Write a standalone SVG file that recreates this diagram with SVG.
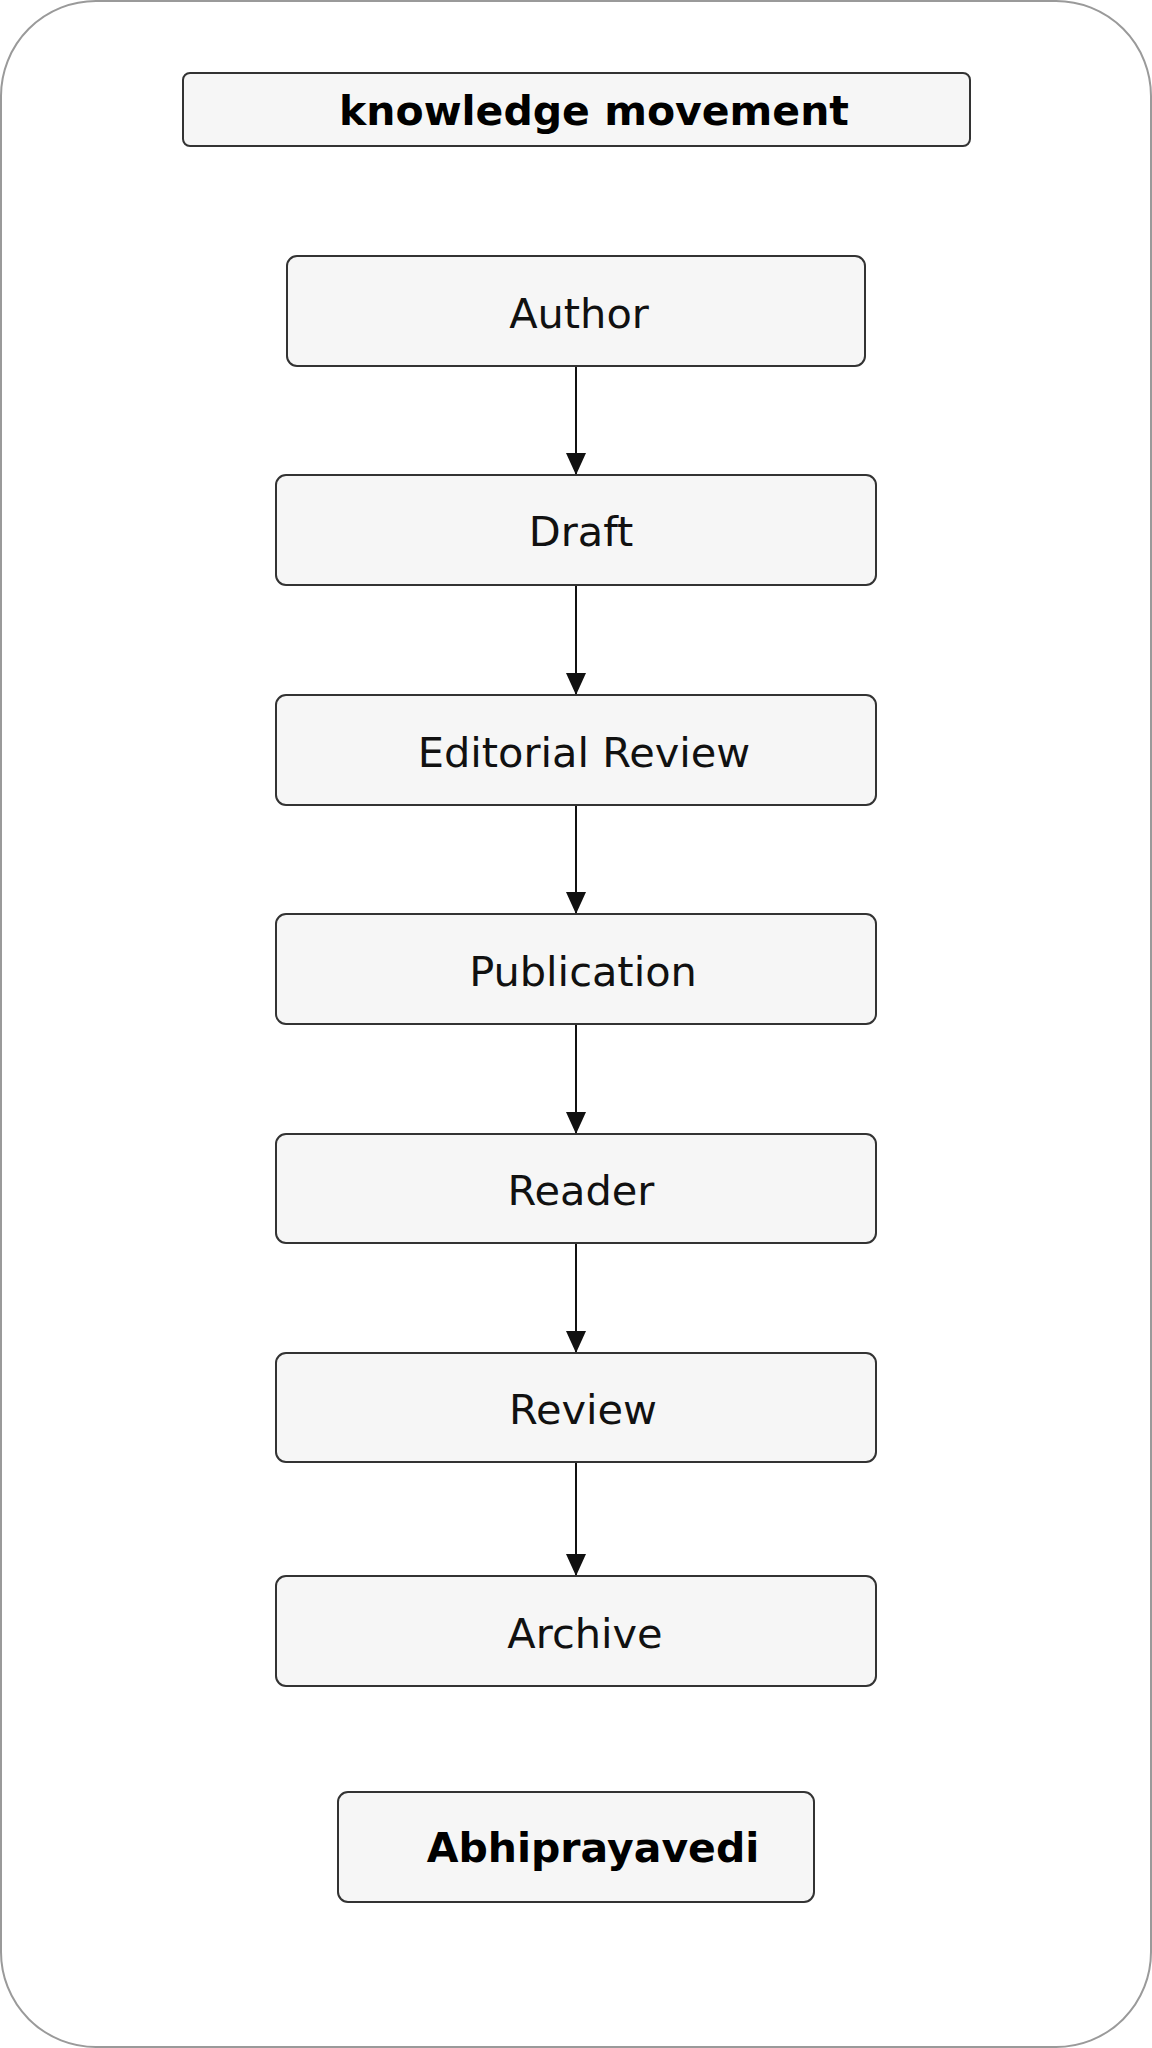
<svg xmlns="http://www.w3.org/2000/svg" width="1152" height="2048" viewBox="0 0 1152 2048">
<defs>
<style>
.frame{fill:#ffffff;stroke:#9a9a9a;stroke-width:2}
.box{fill:#f6f6f6;stroke:#333333;stroke-width:2}
.lbl{font-family:"DejaVu Sans",sans-serif;font-size:41.5px;fill:#111111;text-anchor:middle}
.bold{font-family:"DejaVu Sans",sans-serif;font-size:41px;font-weight:bold;fill:#000000;text-anchor:middle}
.edge{stroke:#111111;stroke-width:2;fill:none}
</style>
<marker id="arrow" markerWidth="22" markerHeight="20" refX="22" refY="10" orient="auto" markerUnits="userSpaceOnUse" viewBox="0 0 22 20">
<path d="M0,0 L22,10 L0,20 Z" fill="#111111"/>
</marker>
</defs>
<rect class="frame" x="1" y="1" width="1150" height="2046" rx="95" ry="95"/>
<g id="title">
<rect class="box" x="183" y="73" width="787" height="73" rx="7"/>
<text class="bold" x="594" y="125">knowledge movement</text>
</g>
<g id="connectors">
<line class="edge" x1="576" y1="367" x2="576" y2="475" marker-end="url(#arrow)"/>
<line class="edge" x1="576" y1="586" x2="576" y2="695" marker-end="url(#arrow)"/>
<line class="edge" x1="576" y1="806" x2="576" y2="914" marker-end="url(#arrow)"/>
<line class="edge" x1="576" y1="1025" x2="576" y2="1134" marker-end="url(#arrow)"/>
<line class="edge" x1="576" y1="1244" x2="576" y2="1353" marker-end="url(#arrow)"/>
<line class="edge" x1="576" y1="1463" x2="576" y2="1576" marker-end="url(#arrow)"/>
</g>
<g id="author">
<rect class="box" x="287" y="256" width="578" height="110" rx="10"/>
<text class="lbl" x="579" y="328">Author</text>
</g>
<g id="draft">
<rect class="box" x="276" y="475" width="600" height="110" rx="10"/>
<text class="lbl" x="581" y="546">Draft</text>
</g>
<g id="editorial-review">
<rect class="box" x="276" y="695" width="600" height="110" rx="10"/>
<text class="lbl" x="584" y="767">Editorial Review</text>
</g>
<g id="publication">
<rect class="box" x="276" y="914" width="600" height="110" rx="10"/>
<text class="lbl" x="583" y="986">Publication</text>
</g>
<g id="reader">
<rect class="box" x="276" y="1134" width="600" height="109" rx="10"/>
<text class="lbl" x="581" y="1205">Reader</text>
</g>
<g id="review">
<rect class="box" x="276" y="1353" width="600" height="109" rx="10"/>
<text class="lbl" x="583" y="1424">Review</text>
</g>
<g id="archive">
<rect class="box" x="276" y="1576" width="600" height="110" rx="10"/>
<text class="lbl" x="585" y="1648">Archive</text>
</g>
<g id="abhiprayavedi">
<rect class="box" x="338" y="1792" width="476" height="110" rx="10"/>
<text class="bold" x="593" y="1862">Abhiprayavedi</text>
</g>
</svg>
